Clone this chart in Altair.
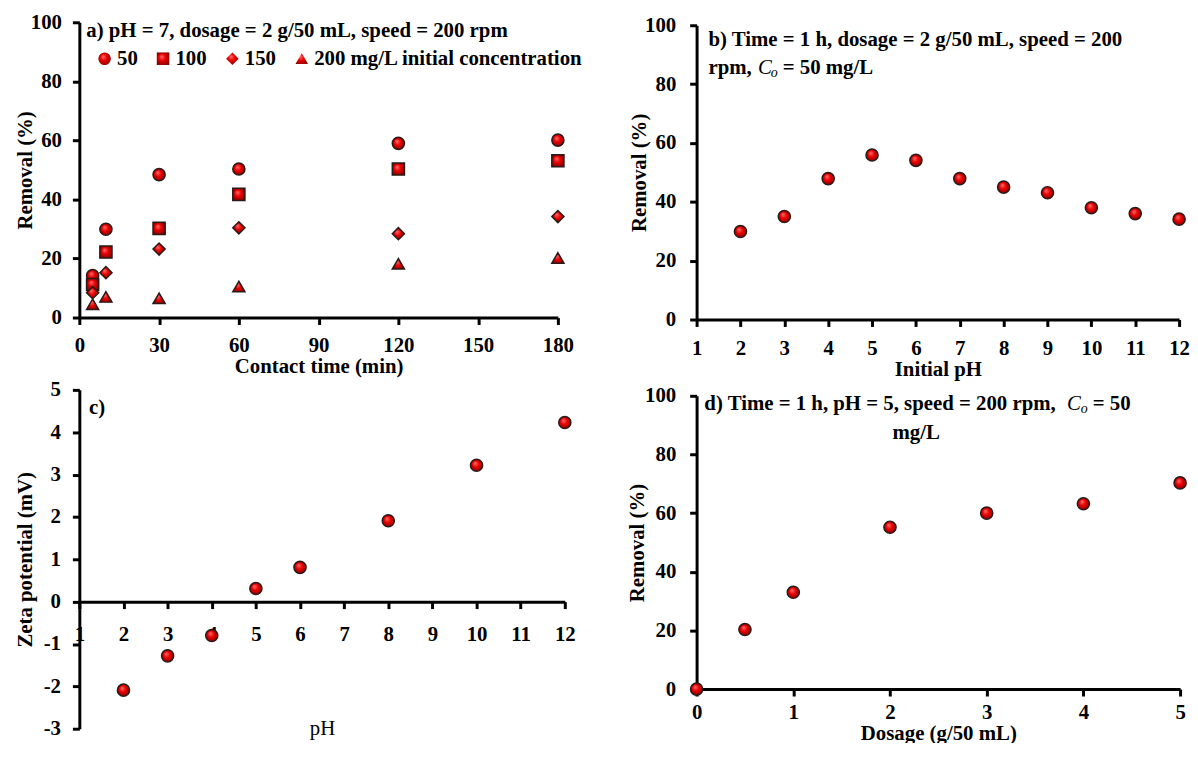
import altair as alt
import pandas as pd

# ---------------- data ----------------
time_min = [5, 10, 30, 60, 120, 180]
conc_50 = [14.2, 29.9, 48.4, 50.3, 59.0, 60.1]
conc_100 = [11.2, 22.2, 30.2, 41.7, 50.3, 53.1]
conc_150 = [8.4, 15.2, 23.2, 30.4, 28.4, 34.2]
conc_200 = [4.5, 7.0, 6.5, 10.5, 18.2, 20.2]
conc_labels = ["50", "100", "150", "200 mg/L initial concentration"]

ph_b = [2, 3, 4, 5, 6, 7, 8, 9, 10, 11, 12]
removal_b = [29.9, 35.0, 47.9, 55.9, 54.1, 47.9, 45.0, 43.1, 38.0, 36.0, 34.1]

ph_c = [2, 3, 4, 5, 6, 8, 10, 12]
zeta_c = [-2.09, -1.28, -0.80, 0.31, 0.81, 1.91, 3.22, 4.23]

dosage_d = [0, 0.5, 1, 2, 3, 4, 5]
removal_d = [0, 20.3, 33.0, 55.2, 60.0, 63.2, 70.3]

# ---------------- style ----------------
FONT = "Liberation Serif"
FS = 21
RED = {
    "gradient": "radial",
    "x1": 0.38, "y1": 0.32, "r1": 0.0,
    "x2": 0.5, "y2": 0.5, "r2": 0.6,
    "stops": [
        {"offset": 0.0, "color": "#ff7070"},
        {"offset": 0.45, "color": "#e80000"},
        {"offset": 1.0, "color": "#7a0000"},
    ],
}
STROKE = "#2b1a1a"
HYPHEN = "replace(datum.label, '\u2212', '-')"

# panel sizes (plot areas) and the vertical offset of each plot inside its cell
H_A, H_B, H_C, H_D = 298, 300, 342, 302
TOP_B, TOP_D = 3, 6


def ax(values, title, **kw):
    base = dict(values=values, title=title, grid=False,
                domainColor="black", domainWidth=3,
                tickColor="black", tickWidth=3, tickSize=7,
                labelFont=FONT, labelFontSize=FS, labelFontWeight="bold",
                labelColor="black", titleFont=FONT, titleFontSize=FS,
                titleFontWeight="bold", titleColor="black", labelFlush=False,
                labelOverlap=False, titleBaseline="middle", labelExpr=HYPHEN)
    base.update(kw)
    return alt.Axis(**base)


def note(df, xf, yf, **kw):
    props = dict(align="left", baseline="middle", font=FONT, fontSize=FS,
                 fontWeight="bold", color="black")
    props.update(kw)
    return alt.Chart(df).mark_text(**props).encode(
        x=alt.X(f"{xf}:Q"), y=alt.Y(f"{yf}:Q"), text="t:N")


def dots(df, x, y):
    return alt.Chart(df).mark_point(filled=True, fill=RED, stroke=STROKE,
                                    strokeWidth=1.5, opacity=1, size=150,
                                    shape="circle").encode(x=x, y=y)


# ---------------- panel a ----------------
rows = []
for lab, vals in zip(conc_labels, [conc_50, conc_100, conc_150, conc_200]):
    for t, v in zip(time_min, vals):
        rows.append({"time": t, "removal": v, "conc": lab})
df_a = pd.DataFrame(rows)

pts_a = alt.Chart(df_a).mark_point(filled=True, fill=RED, stroke=STROKE,
                                   strokeWidth=1.5, opacity=1, size=150).encode(
    x=alt.X("time:Q", scale=alt.Scale(domain=[0, 180], nice=False),
            axis=ax([0, 30, 60, 90, 120, 150, 180], "Contact time (min)",
                    labelPadding=10, titleY=49)),
    y=alt.Y("removal:Q", scale=alt.Scale(domain=[0, 100], nice=False),
            axis=ax([0, 20, 40, 60, 80, 100], "Removal (%)", labelPadding=11,
                    titleX=-54)),
    shape=alt.Shape("conc:N",
                    scale=alt.Scale(domain=conc_labels,
                                    range=["circle", "square", "diamond", "triangle-up"]),
                    legend=alt.Legend(orient="none", legendX=15, legendY=26,
                                      direction="horizontal", columns=4, title=None,
                                      padding=0, labelFont=FONT, labelFontSize=FS,
                                      labelFontWeight="bold", labelColor="black",
                                      labelLimit=400, symbolSize=160,
                                      symbolFillColor="#dd0000",
                                      symbolStrokeColor=STROKE, symbolStrokeWidth=1.5,
                                      columnPadding=15, labelOffset=2)),
)
txt_a = note(pd.DataFrame({"time": [2.6], "removal": [97.0],
                           "t": ["a) pH = 7, dosage = 2 g/50 mL, speed = 200 rpm"]}),
             "time", "removal")
panel_a = alt.layer(pts_a, txt_a).properties(width=483, height=H_A)

# ---------------- panel b ----------------
df_b = pd.DataFrame({"ph": ph_b, "removal": removal_b})
pts_b = dots(
    df_b,
    alt.X("ph:Q", scale=alt.Scale(domain=[1, 12], nice=False),
          axis=ax(list(range(1, 13)), "Initial pH", labelPadding=11, titleY=51)),
    alt.Y("removal:Q", scale=alt.Scale(domain=[0, 100], nice=False,
                                       range=[H_B, TOP_B]),
          axis=ax([0, 20, 40, 60, 80, 100], "Removal (%)", labelPadding=14,
                  titleX=-58)),
)
txt_b1 = note(pd.DataFrame({"ph": [1.27], "removal": [95.0],
                            "t": ["b) Time = 1 h, dosage = 2 g/50 mL, speed = 200"]}),
              "ph", "removal")
line2 = pd.DataFrame({"ph": [1.27], "removal": [85.6], "t": ["rpm,"]})
txt_b2 = note(line2, "ph", "removal")
txt_b3 = note(line2.assign(t="C"), "ph", "removal", fontStyle="italic",
              fontWeight="normal", dx=50)
txt_b4 = note(line2.assign(t="o"), "ph", "removal", fontStyle="italic",
              fontWeight="normal", fontSize=14, dx=63, dy=5)
txt_b5 = note(line2.assign(t="= 50 mg/L"), "ph", "removal", dx=75)
panel_b = alt.layer(pts_b, txt_b1, txt_b2, txt_b3, txt_b4, txt_b5).properties(
    width=487, height=H_B)

# ---------------- panel c ----------------
df_c = pd.DataFrame({"ph": ph_c, "zeta": zeta_c})
pts_c = dots(
    df_c,
    alt.X("ph:Q", scale=alt.Scale(domain=[1, 12], nice=False),
          axis=ax(list(range(1, 13)), "pH", labelPadding=15,
                  offset=-H_C * 3 / 8, titleY=H_C * 3 / 8, titleFontWeight="normal")),
    alt.Y("zeta:Q", scale=alt.Scale(domain=[-3, 5], nice=False),
          axis=ax(list(range(-3, 6)), "Zeta potential (mV)", labelPadding=12,
                  titleX=-54)),
)
txt_c = note(pd.DataFrame({"ph": [1.22], "zeta": [4.58], "t": ["c)"]}), "ph", "zeta")
panel_c = alt.layer(pts_c, txt_c).properties(width=490, height=H_C)

# ---------------- panel d ----------------
df_d = pd.DataFrame({"dosage": dosage_d, "removal": removal_d})
pts_d = dots(
    df_d,
    alt.X("dosage:Q", scale=alt.Scale(domain=[0, 5], nice=False),
          axis=ax([0, 1, 2, 3, 4, 5], "Dosage (g/50 mL)", labelPadding=6,
                  titleY=45, format="d")),
    alt.Y("removal:Q", scale=alt.Scale(domain=[0, 100], nice=False,
                                       range=[H_D, TOP_D]),
          axis=ax([0, 20, 40, 60, 80, 100], "Removal (%)", labelPadding=14,
                  titleX=-60)),
)
d1 = pd.DataFrame({"dosage": [0.08], "removal": [97.3],
                   "t": ["d) Time = 1 h, pH = 5, speed = 200 rpm,"]})
txt_d1 = note(d1, "dosage", "removal")
txt_d2 = note(d1.assign(t="C"), "dosage", "removal", fontStyle="italic",
              fontWeight="normal", dx=366)
txt_d3 = note(d1.assign(t="o"), "dosage", "removal", fontStyle="italic",
              fontWeight="normal", fontSize=14, dx=380, dy=5)
txt_d4 = note(d1.assign(t="= 50"), "dosage", "removal", dx=392)
txt_d5 = note(pd.DataFrame({"dosage": [2.27], "removal": [87.3], "t": ["mg/L"]}),
              "dosage", "removal", align="center")
panel_d = alt.layer(pts_d, txt_d1, txt_d2, txt_d3, txt_d4, txt_d5).properties(
    width=488, height=H_D)

# ---------------- layout ----------------
chart = alt.concat(
    panel_a, panel_b, panel_c, panel_d,
    columns=2, bounds="flush", align="all",
    spacing={"row": 29, "column": 133},
).resolve_scale(shape="independent").properties(
    padding={"left": 7, "top": 0, "right": 0, "bottom": -4},
    background="white",
).configure_view(stroke=None)

chart.save("out.html", embed_options={"renderer": "svg", "actions": False})
